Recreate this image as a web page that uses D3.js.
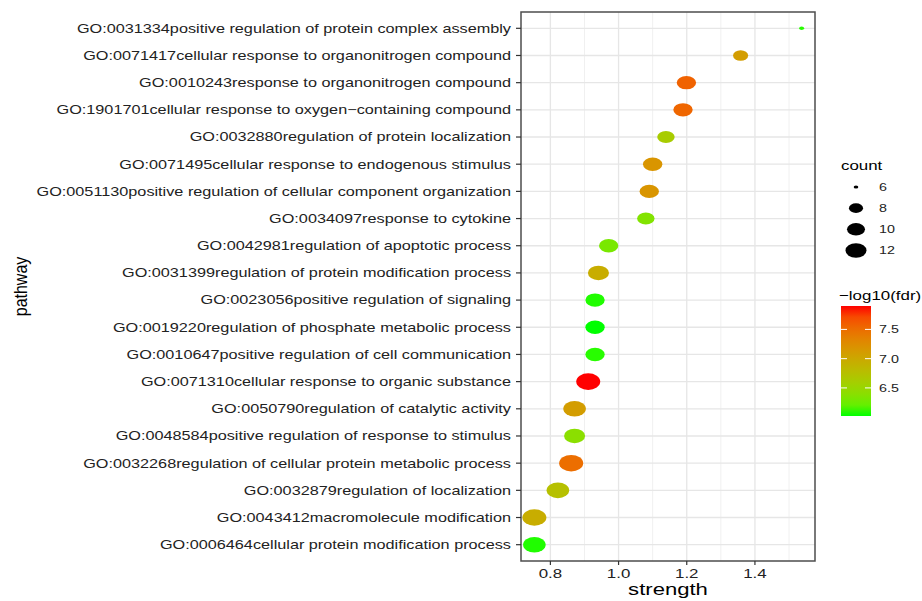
<!DOCTYPE html>
<html>
<head>
<meta charset="utf-8">
<script src="https://cdn.jsdelivr.net/npm/d3@7"></script>
<style>
  body { margin: 0; background: #fff; }
  text { font-family: "Liberation Sans", Arial, Helvetica, sans-serif; }
</style>
</head>
<body>
<svg id="chart" width="922" height="601"></svg>
<script>
// data, top row first
var pathways = [
  "GO:0031334positive regulation of protein complex assembly",
  "GO:0071417cellular response to organonitrogen compound",
  "GO:0010243response to organonitrogen compound",
  "GO:1901701cellular response to oxygen\u2212containing compound",
  "GO:0032880regulation of protein localization",
  "GO:0071495cellular response to endogenous stimulus",
  "GO:0051130positive regulation of cellular component organization",
  "GO:0034097response to cytokine",
  "GO:0042981regulation of apoptotic process",
  "GO:0031399regulation of protein modification process",
  "GO:0023056positive regulation of signaling",
  "GO:0019220regulation of phosphate metabolic process",
  "GO:0010647positive regulation of cell communication",
  "GO:0071310cellular response to organic substance",
  "GO:0050790regulation of catalytic activity",
  "GO:0048584positive regulation of response to stimulus",
  "GO:0032268regulation of cellular protein metabolic process",
  "GO:0032879regulation of localization",
  "GO:0043412macromolecule modification",
  "GO:0006464cellular protein modification process"
];
var strength = [1.537, 1.358, 1.199, 1.189, 1.139, 1.100, 1.090, 1.080, 0.971, 0.941,
                0.931, 0.931, 0.931, 0.911, 0.871, 0.871, 0.861, 0.822, 0.753, 0.753];
var counts = [6, 8, 10, 10, 9, 10, 10, 9, 10, 11,
              10, 10, 10, 13, 12, 11, 13, 12, 13, 12];
var logFdr = [6.05, 7.10, 7.58, 7.55, 6.62, 7.18, 7.18, 6.35, 6.30, 6.95,
              6.04, 6.02, 6.05, 7.90, 7.10, 6.40, 7.50, 6.75, 6.95, 6.04];

var strengthTicks = [0.8, 1.0, 1.2, 1.4];
var strengthMinor = [0.9, 1.1, 1.3, 1.5];
var countBreaks = [6, 8, 10, 12];
var fdrBreaks = [6.5, 7.0, 7.5];

var svg = d3.select("#chart");
var panel = { left: 521, right: 815, top: 12, bottom: 561 };
var sx = 1.3; // the picture is stretched sideways
var ink = "#222";

svg.append("rect").attr("width", 922).attr("height", 601).attr("fill", "#fff");

var ext = d3.extent(strength), pad = (ext[1] - ext[0]) * 0.05;
var x = d3.scaleLinear().domain([ext[0] - pad, ext[1] + pad]).range([panel.left, panel.right]);
var y = d3.scalePoint().domain(pathways).range([panel.top, panel.bottom]).padding(0.6);
var color = d3.scaleLinear().domain(d3.extent(logFdr))
  .range(["#00ff00", "#ff0000"]).interpolate(d3.interpolateLab);
var sizeT = d3.scaleLinear().domain([countBreaks[0], d3.max(counts)]).range([0, 1]);
function rx(c) { return 2.5 + 9.5 * Math.sqrt(sizeT(c)); }
var aspect = 0.69;

// grid
var grid = svg.append("g");
grid.selectAll(".minor").data(strengthMinor).enter().append("line")
  .attr("x1", x).attr("x2", x).attr("y1", panel.top).attr("y2", panel.bottom)
  .attr("stroke", "#f0f0f0").attr("stroke-width", 1);
grid.selectAll(".major").data(strengthTicks).enter().append("line")
  .attr("x1", x).attr("x2", x).attr("y1", panel.top).attr("y2", panel.bottom)
  .attr("stroke", "#e6e6e6").attr("stroke-width", 1.3);
grid.selectAll(".hline").data(pathways).enter().append("line")
  .attr("x1", panel.left).attr("x2", panel.right)
  .attr("y1", function (d) { return y(d); }).attr("y2", function (d) { return y(d); })
  .attr("stroke", "#e6e6e6").attr("stroke-width", 1.3);

// points
svg.append("g").selectAll("ellipse").data(pathways).enter().append("ellipse")
  .attr("cx", function (d, i) { return x(strength[i]); })
  .attr("cy", function (d) { return y(d); })
  .attr("rx", function (d, i) { return rx(counts[i]); })
  .attr("ry", function (d, i) { return rx(counts[i]) * aspect; })
  .attr("fill", function (d, i) { return color(logFdr[i]); });

svg.append("rect")
  .attr("x", panel.left).attr("y", panel.top)
  .attr("width", panel.right - panel.left).attr("height", panel.bottom - panel.top)
  .attr("fill", "none").attr("stroke", "#4d4d4d").attr("stroke-width", 1.5);

// y axis
var yAx = svg.append("g");
yAx.selectAll("line").data(pathways).enter().append("line")
  .attr("x1", panel.left - 5).attr("x2", panel.left)
  .attr("y1", function (d) { return y(d); }).attr("y2", function (d) { return y(d); })
  .attr("stroke", "#333").attr("stroke-width", 1.2);
yAx.selectAll("text").data(pathways).enter().append("text")
  .attr("transform", function (d) { return "translate(" + (panel.left - 10) + "," + y(d) + ") scale(" + sx + ",1)"; })
  .attr("text-anchor", "end").attr("dy", "0.35em")
  .attr("font-size", 12.5).attr("fill", ink)
  .text(function (d) { return d; });

// x axis
var xAx = svg.append("g");
xAx.selectAll("line").data(strengthTicks).enter().append("line")
  .attr("x1", x).attr("x2", x).attr("y1", panel.bottom).attr("y2", panel.bottom + 4)
  .attr("stroke", "#333").attr("stroke-width", 1.2);
xAx.selectAll("text").data(strengthTicks).enter().append("text")
  .attr("transform", function (d) { return "translate(" + x(d) + "," + 573 + ") scale(" + sx + ",1)"; })
  .attr("text-anchor", "middle").attr("dy", "0.35em")
  .attr("font-size", 13).attr("fill", ink)
  .text(d3.format(".1f"));

svg.append("text")
  .attr("transform", "translate(" + ((panel.left + panel.right) / 2) + ",589) scale(" + sx + ",1)")
  .attr("text-anchor", "middle").attr("dy", "0.35em")
  .attr("font-size", 17).attr("fill", "#000")
  .text("strength");

svg.append("text")
  .attr("transform", "translate(20," + ((panel.top + panel.bottom) / 2) + ") rotate(-90) scale(1,1.2)")
  .attr("text-anchor", "middle").attr("dy", "0.35em")
  .attr("font-size", 16).attr("fill", "#000")
  .text("pathway");

// size legend
var sl = svg.append("g");
sl.append("text")
  .attr("transform", "translate(841,165) scale(" + sx + ",1)")
  .attr("dy", "0.35em").attr("font-size", 13).attr("fill", "#000")
  .text("count");
var keyY = d3.scalePoint().domain(countBreaks).range([187, 250.5]);
sl.selectAll("ellipse").data(countBreaks).enter().append("ellipse")
  .attr("cx", 856).attr("cy", keyY)
  .attr("rx", function (d) { return rx(d) * 0.93; })
  .attr("ry", function (d) { return rx(d) * 0.93 * aspect; })
  .attr("fill", "#000");
sl.selectAll("text.lab").data(countBreaks).enter().append("text")
  .attr("class", "lab")
  .attr("transform", function (d) { return "translate(879," + keyY(d) + ") scale(" + sx + ",1)"; })
  .attr("dy", "0.35em").attr("font-size", 11).attr("fill", ink)
  .text(function (d) { return d; });

// colour bar
var cb = svg.append("g");
var fdrExt = d3.extent(logFdr);
var barY = d3.scaleLinear().domain(fdrExt).range([416, 306]);
var defs = svg.append("defs");
var grad = defs.append("linearGradient").attr("id", "fdr-grad")
  .attr("x1", "0%").attr("y1", "100%").attr("x2", "0%").attr("y2", "0%");
d3.range(0, 1.0001, 0.1).forEach(function (t) {
  grad.append("stop").attr("offset", (t * 100) + "%")
    .attr("stop-color", color(fdrExt[0] + t * (fdrExt[1] - fdrExt[0])));
});
cb.append("text")
  .attr("transform", "translate(839,295) scale(" + sx + ",1)")
  .attr("dy", "0.35em").attr("font-size", 13).attr("fill", "#000")
  .text("\u2212log10(fdr)");
cb.append("rect")
  .attr("x", 841).attr("y", barY(fdrExt[1]))
  .attr("width", 30).attr("height", barY(fdrExt[0]) - barY(fdrExt[1]))
  .attr("fill", "url(#fdr-grad)");
cb.selectAll("line.l").data(fdrBreaks).enter().append("line")
  .attr("x1", 841).attr("x2", 847).attr("y1", barY).attr("y2", barY)
  .attr("stroke", "#fff").attr("stroke-width", 1);
cb.selectAll("line.r").data(fdrBreaks).enter().append("line")
  .attr("x1", 865).attr("x2", 871).attr("y1", barY).attr("y2", barY)
  .attr("stroke", "#fff").attr("stroke-width", 1);
cb.selectAll("text.lab").data(fdrBreaks).enter().append("text")
  .attr("class", "lab")
  .attr("transform", function (d) { return "translate(879," + barY(d) + ") scale(" + sx + ",1)"; })
  .attr("dy", "0.35em").attr("font-size", 11).attr("fill", ink)
  .text(d3.format(".1f"));
</script>
</body>
</html>
